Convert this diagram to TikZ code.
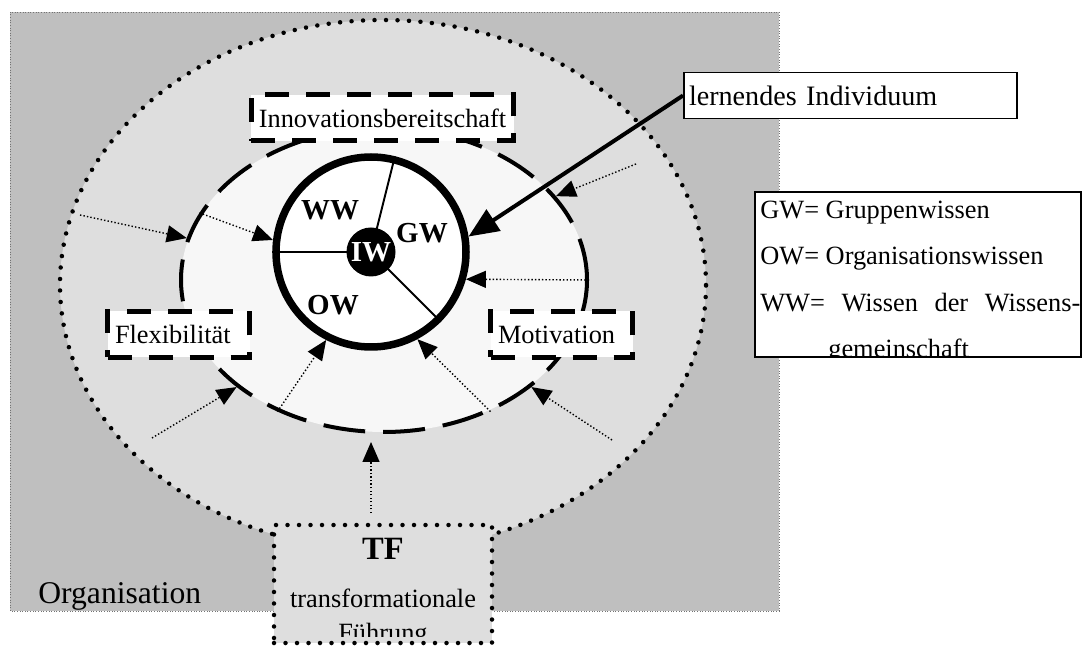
\documentclass[tikz,border=0pt]{standalone}
\usepackage{fontspec}
\setmainfont{Liberation Serif}
\usepackage{tikz}
\usetikzlibrary{positioning,arrows.meta,shapes.geometric}

\begin{document}
\begin{tikzpicture}[
  txt/.style={font=\fontsize{15}{18}\selectfont},
  lbl/.style={font=\bfseries\fontsize{16.5}{20}\selectfont},
  kb/.style={draw,fill=white,line width=0.1cm,dash pattern=on 0.48cm off 0.34cm,minimum height=0.92cm,inner xsep=0.15cm,inner ysep=0pt,align=left,txt},
  wb/.style={draw,fill=white,line width=1.1pt},
  dots/.style={draw,line width=0.09cm,dash pattern=on 0pt off 0.23cm,line cap=round},
  pt/.style={line width=0.8pt,dash pattern=on 0.8pt off 1.2pt,-{Triangle[length=0.4cm,width=0.34cm]}}]
\useasboundingbox (0,0) rectangle (21.68,12.9);
% Organisation
\fill[black!25] (0.2,0.68) rectangle (15.58,12.66);
\draw[black!55,line width=0.5pt,densely dotted] (0.2,0.68) rectangle (15.58,12.66);
\node[anchor=base west,inner sep=0,font=\fontsize{18}{22}\selectfont] (orgtxt) at (0.76,0.84) {Organisation};
\node[ellipse,dots,fill=black!13,minimum width=12.92cm,minimum height=10.6cm,inner sep=0] (org) at (7.66,7.2) {};
% TF
\node[dots,fill=black!13,minimum width=4.36cm,minimum height=2.36cm,inner sep=0] (tf) at (7.66,1.22) {};
\begin{scope}
\clip (5.52,0.18) rectangle (9.8,2.36);
\node[anchor=base,inner sep=0,font=\bfseries\fontsize{18.5}{22}\selectfont] (tft) at (7.66,1.71) {TF};
\node[txt,anchor=base,inner sep=0] (tr) at (7.66,0.75) {transformationale};
\node[txt,anchor=base,inner sep=0] (fu) at (7.66,0.08) {Führung};
\end{scope}
% Wissen
\node[ellipse,draw,fill=black!3,line width=0.08cm,dash pattern=on 0.84cm off 0.36cm,minimum width=8.12cm,minimum height=6.08cm,inner sep=0] (mid) at (7.68,7.3) {};
\node[circle,draw,fill=white,line width=0.15cm,minimum size=3.8cm,inner sep=0,outer sep=0.075cm] (lw) at (7.42,7.86) {};
\draw[line width=1.1pt] (lw.center) -- (lw.76);
\draw[line width=1.1pt] (lw.center) -- (lw.180);
\draw[line width=1.1pt] (lw.center) -- (lw.-45);
\node[circle,fill=black,text=white,lbl,minimum size=0.98cm,inner sep=0] (iw) at (lw.center) {IW};
\node[lbl] (ww) at (6.6,8.7) {WW};
\node[lbl] (gw) at (8.44,8.24) {GW};
\node[lbl] (ow) at (6.66,6.8) {OW};
\node[kb] (inno) at (7.65,10.54) {Innovationsbereitschaft};
\node[kb,text width=2.54cm] (flex) at (3.57,6.21) {Flexibilität};
\node[kb,text width=2.54cm] (moti) at (11.23,6.21) {Motivation};
% Einfluesse
\coordinate (a1) at (1.6,8.6);
\coordinate (a3) at (3.04,4.14);
\coordinate (a5) at (7.42,2.64);
\coordinate (a5e) at (7.42,4.06);
\coordinate (a7) at (12.24,4.1);
\coordinate (a9) at (12.72,9.62);
\draw[pt] (a1) -- (mid.168);
\draw[pt] (mid.160) -- (lw.173);
\draw[pt] (a3) -- (mid.216);
\draw[pt] (mid.231) -- (lw.243);
\draw[pt] (a5) -- (a5e);
\draw[pt] (mid.309) -- (lw.298);
\draw[pt] (a7) -- (mid.324);
\draw[pt] (mid.east) -- (lw.344);
\draw[pt] (a9) -- (mid.26);
% lernendes Individuum
\node[wb,font=\fontsize{16}{19}\selectfont,text width=6.46cm,inner xsep=0.1cm,minimum height=0.92cm,align=left] (li) at (17.01,10.99) {lernendes Individuum};
\draw[line width=0.08cm,-{Triangle[length=0.6cm,width=0.5cm]}] (li.west) -- (lw.9);
% Legende
\node[wb,minimum width=6.52cm,minimum height=3.3cm,inner sep=0] (lg) at (18.36,7.41) {};
\begin{scope}
\clip (lg.south west) rectangle (lg.north east);
\node[txt,anchor=base west,inner sep=0] (lg1) at (15.2,8.52) {GW= Gruppenwissen};
\node[txt,anchor=base west,inner sep=0] (lg2) at (15.2,7.6) {OW= Organisationswissen};
\node[txt,anchor=base west,inner sep=0] (lg3) at (15.2,6.66) {\makebox[6.4cm][s]{WW= Wissen der Wissens-}};
\node[txt,anchor=base west,inner sep=0] (lg4) at (16.56,5.74) {gemeinschaft};
\end{scope}
\end{tikzpicture}
\end{document}
